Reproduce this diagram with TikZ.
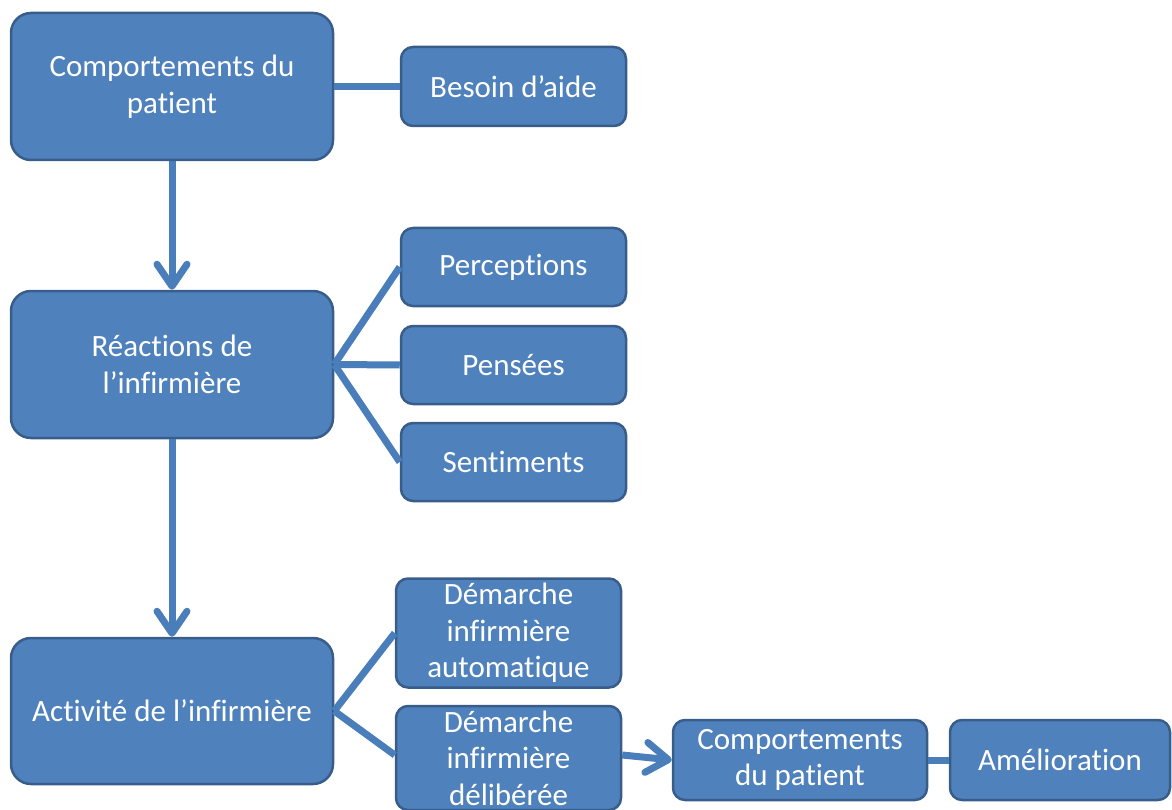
\documentclass[tikz,border=0pt]{standalone}
\usepackage{fontspec}
\setmainfont{Carlito}[Ligatures=NoCommon]
\usetikzlibrary{arrows.meta}
\definecolor{boxfill}{HTML}{4F81BD}
\definecolor{boxline}{HTML}{385D8A}
\definecolor{conn}{HTML}{4A7EBB}
\tikzset{
  base/.style={draw=boxline, fill=boxfill, line width=2.5pt, text=white,
    align=center, inner sep=0pt, font=\fontsize{31}{36.5}\selectfont},
  bigbox/.style={base, rounded corners=20pt, minimum width=322pt, minimum height=147pt},
  smallbox/.style={base, rounded corners=12pt, minimum width=225pt, minimum height=79pt},
  conline/.style={draw=conn, line width=7pt},
  conarrow/.style={conline, -{Straight Barb[length=22pt,width=30pt,round]}}
}
\begin{document}
\begin{tikzpicture}[x=1pt,y=-1pt]
\useasboundingbox (0,0) rectangle (1172,810);
\node[bigbox] (cp1) at (172,86.5) {Comportements du\\patient};
\node[bigbox] (rea) at (172,364.5) {Réactions de\\l’infirmière};
\node[bigbox, minimum height=146pt] (act) at (172,711) {Activité de l’infirmière};
\node[smallbox] (bes) at (513.5,86.5) {Besoin d’aide};
\node[smallbox, minimum height=78pt] (per) at (513.5,267) {Perceptions};
\node[smallbox, minimum height=78pt] (pen) at (513.5,365) {Pensées};
\node[smallbox, minimum height=78pt] (sen) at (513.5,462) {Sentiments};
\node[smallbox, minimum height=109pt] (aut) at (508.5,633) {Démarche\\infirmière\\automatique};
\node[smallbox, minimum height=104pt] (del) at (508.5,758) {Démarche\\infirmière\\délibérée};
\node[smallbox, minimum width=254pt, minimum height=80pt] (cp2) at (800,760) {Comportements\\du patient};
\node[smallbox, minimum width=220pt, minimum height=80pt] (ame) at (1060,760) {Amélioration};
\draw[conline] (cp1.east) -- (bes.west);
\draw[conarrow] (cp1.south) -- (rea.north);
\draw[conarrow] (rea.south) -- (act.north);
\draw[conline] (rea.east) -- (per.west);
\draw[conline] (rea.east) -- (pen.west);
\draw[conline] (rea.east) -- (sen.west);
\draw[conline] (act.east) -- (aut.west);
\draw[conline] (act.east) -- ([yshift=3pt]del.west);
\draw[conarrow] ([yshift=3pt]del.east) -- (cp2.west);
\draw[conline] (cp2.east) -- (ame.west);
\end{tikzpicture}
\end{document}
